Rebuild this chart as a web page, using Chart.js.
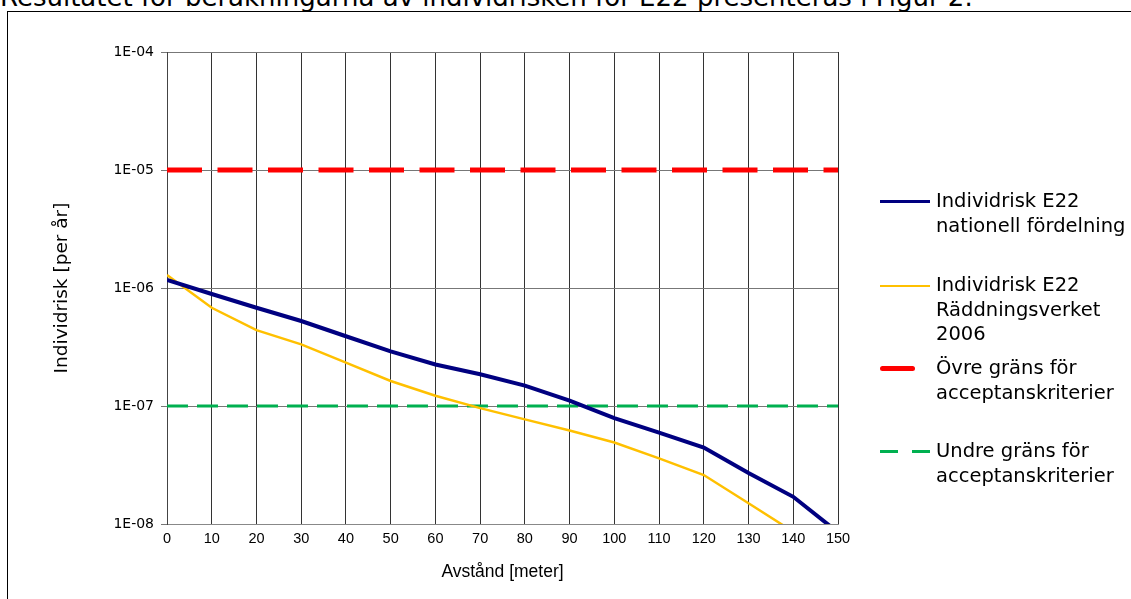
<!DOCTYPE html>
<html lang="sv">
<head>
    <meta charset="UTF-8">
    <title>Individrisk E22</title>
    <script src="https://cdn.jsdelivr.net/npm/chart.js"></script>
    <style>
        body {
            margin: 0;
            background: #fff;
            width: 1131px;
            height: 599px;
            overflow: hidden;
            position: relative;
            font-family: "DejaVu Sans", sans-serif;
        }
        .intro {
            position: absolute;
            left: 0;
            top: -18px;
            font-size: 26px;
            white-space: nowrap;
            color: #000;
        }
        .frame {
            position: absolute;
            left: 7px;
            top: 11px;
            width: 1300px;
            height: 800px;
            border: 1px solid #000;
        }
        #chartWrap {
            position: absolute;
            left: 0;
            top: 0;
            width: 1131px;
            height: 599px;
        }
        .legend-item {
            position: absolute;
            left: 880px;
            font-size: 19.5px;
            line-height: 24.5px;
            color: #000;
        }
        .legend-item .swatch {
            position: absolute;
            left: 0;
            top: 11px;
        }
        .legend-item .txt {
            margin-left: 56px;
            white-space: nowrap;
        }
    </style>
</head>
<body>
    <div class="intro">Resultatet för beräkningarna av individrisken för E22 presenteras i Figur 2.</div>
    <div class="frame"></div>

    <div id="chartWrap">
        <canvas id="riskChart" width="1131" height="599"></canvas>
    </div>

    <div class="legend-item" style="top:189px;">
        <div class="swatch" style="width:50px;border-top:3px solid #000080;"></div>
        <div class="txt">Individrisk E22<br>nationell fördelning</div>
    </div>
    <div class="legend-item" style="top:273px;">
        <div class="swatch" style="width:50px;border-top:2px solid #FFC000;top:12px;"></div>
        <div class="txt">Individrisk E22<br>Räddningsverket<br>2006</div>
    </div>
    <div class="legend-item" style="top:356px;">
        <div class="swatch" style="width:35px;border-top:5px solid #FF0000;border-radius:3px;top:10px;"></div>
        <div class="txt">Övre gräns för<br>acceptanskriterier</div>
    </div>
    <div class="legend-item" style="top:439px;">
        <div class="swatch" style="width:18px;border-top:3px solid #00B050;"></div>
        <div class="swatch" style="left:32px;width:18px;border-top:3px solid #00B050;"></div>
        <div class="txt">Undre gräns för<br>acceptanskriterier</div>
    </div>

    <script>
        const distances = [0, 10, 20, 30, 40, 50, 60, 70, 80, 90, 100, 110, 120, 130, 140, 150];
        const nationellRisk = [1.17e-6, 8.9e-7, 6.8e-7, 5.25e-7, 3.9e-7, 2.9e-7, 2.25e-7, 1.86e-7, 1.49e-7, 1.11e-7, 7.9e-8, 5.95e-8, 4.45e-8, 2.7e-8, 1.7e-8, 8.5e-9];
        const raddningsverketRisk = [1.29e-6, 6.8e-7, 4.4e-7, 3.33e-7, 2.33e-7, 1.63e-7, 1.22e-7, 9.6e-8, 7.7e-8, 6.2e-8, 4.9e-8, 3.6e-8, 2.6e-8, 1.5e-8, 8.6e-9];
        const limitX = [0, 150];
        const upperLimit = [1e-5, 1e-5];
        const lowerLimit = [1e-7, 1e-7];
        const yTickValues = [1e-8, 1e-7, 1e-6, 1e-5, 1e-4];
        const yTickLabels = ['1E-08', '1E-07', '1E-06', '1E-05', '1E-04'];

        function toPoints(xs, ys) {
            return ys.map((y, i) => ({ x: xs[i], y: y }));
        }

        new Chart(document.getElementById('riskChart'), {
            type: 'line',
            data: {
                datasets: [
                    {
                        label: 'Individrisk E22 nationell fördelning',
                        data: toPoints(distances, nationellRisk),
                        borderColor: '#000080',
                        borderWidth: 4
                    },
                    {
                        label: 'Individrisk E22 Räddningsverket 2006',
                        data: toPoints(distances, raddningsverketRisk),
                        borderColor: '#FFC000',
                        borderWidth: 2.5
                    },
                    {
                        label: 'Övre gräns för acceptanskriterier',
                        data: toPoints(limitX, upperLimit),
                        borderColor: '#FF0000',
                        borderWidth: 5,
                        borderDash: [35, 15.5]
                    },
                    {
                        label: 'Undre gräns för acceptanskriterier',
                        data: toPoints(limitX, lowerLimit),
                        borderColor: '#00B050',
                        borderWidth: 3,
                        borderDash: [21, 9]
                    }
                ]
            },
            options: {
                responsive: false,
                animation: false,
                layout: {
                    padding: { left: 51, right: 293, top: 52, bottom: 0 }
                },
                elements: {
                    line: { tension: 0, fill: false },
                    point: { radius: 0 }
                },
                plugins: {
                    legend: { display: false },
                    tooltip: { enabled: false }
                },
                scales: {
                    x: {
                        type: 'linear',
                        min: 0,
                        max: 150,
                        afterFit: (scale) => { scale.height = 75; },
                        ticks: {
                            stepSize: 10,
                            padding: 6,
                            color: '#000',
                            font: { family: 'Liberation Sans', size: 14.5 }
                        },
                        grid: {
                            color: '#333',
                            drawTicks: false
                        },
                        border: { color: '#888' },
                        title: {
                            display: true,
                            text: 'Avstånd [meter]',
                            color: '#000',
                            font: { family: 'Liberation Sans', size: 17.5 },
                            padding: { top: 16, bottom: 16 }
                        }
                    },
                    y: {
                        type: 'logarithmic',
                        min: 1e-8,
                        max: 1e-4,
                        afterFit: (scale) => { scale.width = 116; },
                        afterBuildTicks: (scale) => {
                            scale.ticks = yTickValues.map(v => ({ value: v }));
                        },
                        ticks: {
                            padding: 7,
                            color: '#000',
                            font: { family: 'DejaVu Sans', size: 14 },
                            callback: (value) => {
                                const i = yTickValues.findIndex(v => Math.abs(Math.log10(v) - Math.log10(value)) < 1e-6);
                                return i >= 0 ? yTickLabels[i] : '';
                            }
                        },
                        grid: {
                            color: '#777',
                            tickLength: 6
                        },
                        border: { color: '#444' },
                        title: {
                            display: true,
                            text: 'Individrisk [per år]',
                            color: '#000',
                            font: { family: 'DejaVu Sans', size: 18.5 },
                            padding: { top: 0, bottom: 0 }
                        }
                    }
                }
            }
        });
    </script>
</body>
</html>
